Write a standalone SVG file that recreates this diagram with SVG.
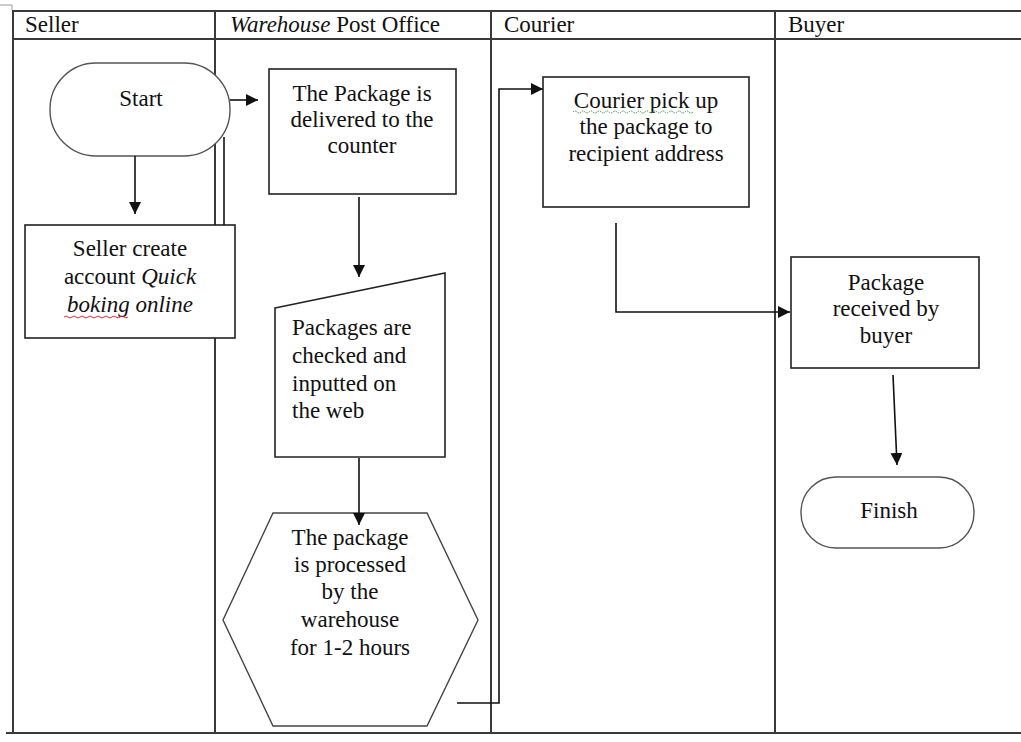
<svg xmlns="http://www.w3.org/2000/svg" width="1021" height="742" viewBox="0 0 1021 742" font-family="'Liberation Serif', 'Times New Roman', 'DejaVu Serif', serif">
<style>
  .grid{stroke:#3a3a3a;stroke-width:2;fill:none}
  .box{fill:#fff;stroke:#222;stroke-width:1.6}
  .term{fill:#fff;stroke:#555;stroke-width:1.4}
  .conn{fill:none;stroke:#111;stroke-width:1.6}
  .t{font-family:'Liberation Serif','Times New Roman','DejaVu Serif',serif;font-size:23px;fill:#111}
  .c{text-anchor:middle}
  .i{font-style:italic}
</style>
<defs>
  <marker id="ah" markerUnits="userSpaceOnUse" markerWidth="12" markerHeight="12" refX="12" refY="6" orient="auto">
    <path d="M0,0 L12,6 L0,12 z" fill="#111"/>
  </marker>
</defs>
<rect width="1021" height="742" fill="#fff"/>
<g id="table">
  <path d="M0,5 H12 V10" stroke="#999" stroke-width="1" fill="none"/>
  <path class="grid" d="M12,11 H1021 M12,39 H1021 M6,733 H1021 M13,11 V733 M215,11 V733 M491,11 V733 M775,11 V733"/>
  <text class="t" x="25" y="32">Seller</text>
  <text class="t" x="230" y="32"><tspan class="i">Warehouse</tspan> Post Office</text>
  <text class="t" x="504" y="32">Courier</text>
  <text class="t" x="788" y="32">Buyer</text>
</g>
<g id="start">
  <rect class="term" x="50" y="63" width="180" height="93" rx="46" ry="46"/>
  <text class="t c" x="141" y="106">Start</text>
</g>
<g id="seller-account">
  <rect class="box" x="25" y="225" width="210" height="113"/>
  <text class="t c" x="130" y="256">Seller create</text>
  <text class="t c" x="130" y="284">account <tspan class="i">Quick</tspan></text>
  <text class="t c i" x="130" y="312">boking online</text>
  <path d="M64,317 q2,-2 4,0 t4,0 t4,0 t4,0 t4,0 t4,0 t4,0 t4,0 t4,0 t4,0 t4,0 t4,0 t4,0 t4,0 t4,0 t4,0" fill="none" stroke="#e03030" stroke-width="1"/>
</g>
<g id="package-delivered">
  <rect class="box" x="269" y="69" width="187" height="125"/>
  <text class="t c" x="362" y="101">The Package is</text>
  <text class="t c" x="362" y="127">delivered to the</text>
  <text class="t c" x="362" y="153">counter</text>
</g>
<g id="packages-checked">
  <polygon class="box" points="275,308 445,273 445,457 275,457"/>
  <text class="t" x="292" y="335">Packages are</text>
  <text class="t" x="292" y="363">checked and</text>
  <text class="t" x="292" y="391">inputted on</text>
  <text class="t" x="292" y="418">the web</text>
</g>
<g id="package-processed">
  <polygon class="term" points="273,513 427,513 478,620 427,726 273,726 223,620" style="stroke:#444"/>
  <text class="t c" x="350" y="545">The package</text>
  <text class="t c" x="350" y="572">is processed</text>
  <text class="t c" x="350" y="599">by the</text>
  <text class="t c" x="350" y="627">warehouse</text>
  <text class="t c" x="350" y="655">for 1-2 hours</text>
</g>
<g id="courier-pickup">
  <rect class="box" x="543" y="77" width="206" height="130"/>
  <text class="t c" x="646" y="108">Courier pick up</text>
  <text class="t c" x="646" y="134">the package to</text>
  <text class="t c" x="646" y="161">recipient address</text>
  <path d="M573,112 q2,-2 4,0 t4,0 t4,0 t4,0 t4,0 t4,0 t4,0 t4,0 t4,0 t4,0 t4,0 t4,0 t4,0 t4,0 t4,0 t4,0 t4,0 t4,0 t4,0 t4,0 t4,0 t4,0 t4,0 t4,0 t4,0 t4,0 t4,0 t4,0 t4,0 t4,0" fill="none" stroke="#3a9a3a" stroke-width="1" stroke-dasharray="1.5,1"/>
</g>
<g id="package-received">
  <rect class="box" x="791" y="257" width="188" height="111"/>
  <text class="t c" x="886" y="290">Package</text>
  <text class="t c" x="886" y="316">received by</text>
  <text class="t c" x="886" y="343">buyer</text>
</g>
<g id="finish">
  <rect class="term" x="801" y="477" width="173" height="71" rx="35" ry="35"/>
  <text class="t c" x="889" y="518">Finish</text>
</g>
<g id="connectors">
  <path class="conn" d="M224,137 V225"/>
  <path class="conn" d="M135,156 V214" marker-end="url(#ah)"/>
  <path class="conn" d="M230,100 H258" marker-end="url(#ah)"/>
  <path class="conn" d="M359,197 V277" marker-end="url(#ah)"/>
  <path class="conn" d="M359,458 V525" marker-end="url(#ah)"/>
  <path class="conn" d="M457,703 H499 V89 H543" marker-end="url(#ah)"/>
  <path class="conn" d="M616,223 V312 H790" marker-end="url(#ah)"/>
  <path class="conn" d="M893,375 L897,465" marker-end="url(#ah)"/>
</g>
</svg>
